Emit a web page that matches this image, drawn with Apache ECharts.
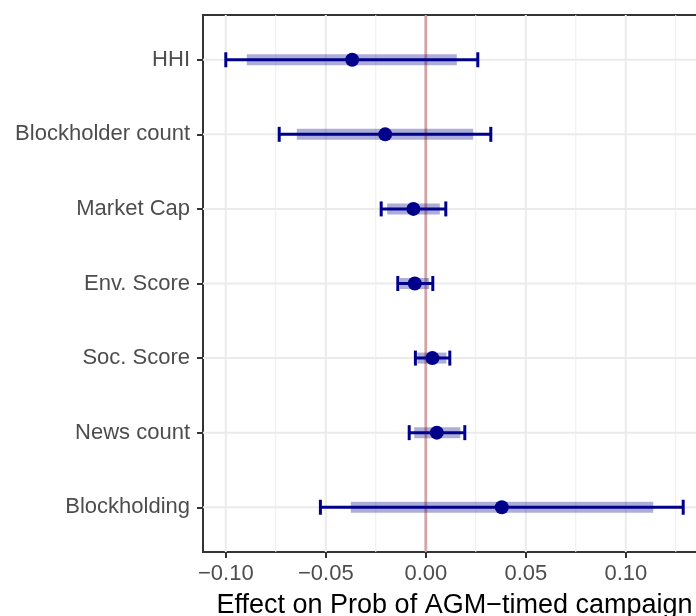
<!DOCTYPE html>
<html><head><meta charset="utf-8">
<script src="https://cdn.jsdelivr.net/npm/echarts@6/dist/echarts.min.js"></script>
<style>html,body{margin:0;padding:0;background:#fff}#c{width:696px;height:616px}</style>
</head><body><div id="c"></div>
<script>
const categories = ['HHI', 'Blockholder count', 'Market Cap', 'Env. Score', 'Soc. Score', 'News count', 'Blockholding'];
const estimate = [-0.0368, -0.0203, -0.0062, -0.0055, 0.0033, 0.0055, 0.0380];
const bandLow  = [-0.0895, -0.0645, -0.0193, -0.0130, -0.0042, -0.0058, -0.0375];
const bandHigh = [ 0.0155,  0.0237,  0.0070,  0.0017,  0.0103,  0.0173,  0.1137];
const ciLow    = [-0.1000, -0.0733, -0.0223, -0.0140, -0.0052, -0.0083, -0.0527];
const ciHigh   = [ 0.0260,  0.0325,  0.0100,  0.0035,  0.0120,  0.0195,  0.1287];
const xMajorTicks = [-0.10, -0.05, 0.00, 0.05, 0.10];
const xMinorTicks = [-0.075, -0.025, 0.025, 0.075, 0.125];
const xLimits = [-0.1114, 0.1401];
const refLine = [0];
const xTitle = 'Effect on Prob of AGM\u2212timed campaign';

const FONT = '"Liberation Sans", Arial, Helvetica, sans-serif';
const idx = categories.map((_, i) => i);
function fmt(v) { return (v < 0 ? '\u2212' : '') + Math.abs(v).toFixed(2); }

const chart = echarts.init(document.getElementById('c'), null, { renderer: 'canvas' });

const option = {
  animation: false,
  backgroundColor: '#fff',
  grid: { left: 203, top: 15, width: 503, height: 537, outerBoundsMode: 'none', containLabel: false,
          show: true, borderColor: '#333333', borderWidth: 2, backgroundColor: 'transparent' },
  xAxis: {
    type: 'value', min: xLimits[0], max: xLimits[1],
    name: xTitle, nameLocation: 'middle', nameGap: 40,
    nameTextStyle: { fontFamily: FONT, fontSize: 27, color: '#000' },
    axisLine: { show: false, onZero: false },
    axisTick: { show: true, customValues: xMajorTicks, length: 6, lineStyle: { color: '#333333', width: 2 } },
    axisLabel: { customValues: xMajorTicks, formatter: fmt, fontSize: 22, color: '#4D4D4D', margin: 11, fontFamily: FONT },
    splitLine: { show: false }
  },
  yAxis: {
    type: 'value', min: -0.6, max: categories.length - 1 + 0.6, inverse: true,
    axisLine: { show: false, onZero: false },
    axisTick: { show: true, customValues: idx, length: 6, lineStyle: { color: '#333333', width: 2 } },
    axisLabel: { customValues: idx, formatter: v => categories[Math.round(v)], fontSize: 22, color: '#4D4D4D', margin: 13, fontFamily: FONT },
    splitLine: { show: false }
  },
  series: [
    { type: 'custom', z: 1, silent: true,
      data: [[0, 0]], encode: { x: 0, y: 1 },
      renderItem: function (params, api) {
        const cs = params.coordSys;
        const kids = [];
        xMinorTicks.forEach(v => {
          const x = api.coord([v, 0])[0];
          kids.push({ type: 'line', shape: { x1: x, y1: cs.y, x2: x, y2: cs.y + cs.height }, style: { stroke: '#EEEEEE', lineWidth: 1 } });
        });
        xMajorTicks.forEach(v => {
          const x = api.coord([v, 0])[0];
          kids.push({ type: 'line', shape: { x1: x, y1: cs.y, x2: x, y2: cs.y + cs.height }, style: { stroke: '#EBEBEB', lineWidth: 2 } });
        });
        idx.forEach(i => {
          const y = api.coord([0, i])[1];
          kids.push({ type: 'line', shape: { x1: cs.x, y1: y, x2: cs.x + cs.width, y2: y }, style: { stroke: '#EBEBEB', lineWidth: 2 } });
        });
        return { type: 'group', children: kids };
      } },
    { type: 'custom', z: 2, silent: true,
      data: idx.map(i => [bandLow[i], bandHigh[i], i]), encode: { x: [0, 1], y: 2 },
      renderItem: function (params, api) {
        const a = api.coord([api.value(0), api.value(2)]);
        const b = api.coord([api.value(1), api.value(2)]);
        return { type: 'rect', shape: { x: a[0], y: a[1] - 5.5, width: b[0] - a[0], height: 11 },
          style: { fill: 'rgba(0,0,139,0.32)' } };
      } },
    { type: 'custom', z: 2, silent: true,
      data: refLine.map(v => [v, 0]), encode: { x: 0, y: 1 },
      renderItem: function (params, api) {
        const cs = params.coordSys;
        const x = api.coord([api.value(0), 0])[0];
        return { type: 'line', shape: { x1: x, y1: cs.y, x2: x, y2: cs.y + cs.height },
          style: { stroke: 'rgba(139,0,0,0.3)', lineWidth: 3 } };
      } },
    { type: 'custom', z: 2, silent: true,
      data: idx.map(i => [ciLow[i], ciHigh[i], i]), encode: { x: [0, 1], y: 2 },
      renderItem: function (params, api) {
        const a = api.coord([api.value(0), api.value(2)]);
        const b = api.coord([api.value(1), api.value(2)]);
        const st = { stroke: '#00008B', lineWidth: 3 };
        return { type: 'group', children: [
          { type: 'line', shape: { x1: a[0], y1: a[1], x2: b[0], y2: b[1] }, style: st },
          { type: 'line', shape: { x1: a[0], y1: a[1] - 7.5, x2: a[0], y2: a[1] + 7.5 }, style: st },
          { type: 'line', shape: { x1: b[0], y1: b[1] - 7.5, x2: b[0], y2: b[1] + 7.5 }, style: st }
        ] };
      } },
    { type: 'scatter', z: 3, silent: true, symbol: 'circle', symbolSize: 14,
      itemStyle: { color: '#00008B', opacity: 1 },
      data: idx.map(i => [estimate[i], i]) }
  ]
};
chart.setOption(option);
</script>
</body></html>
